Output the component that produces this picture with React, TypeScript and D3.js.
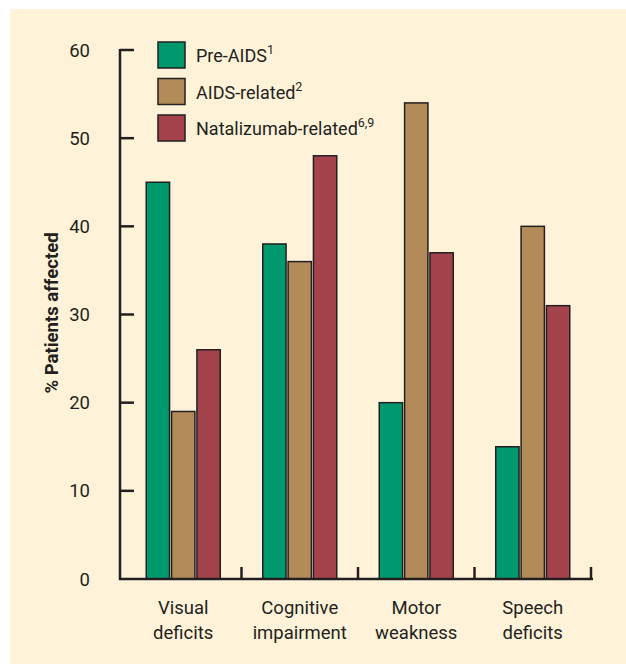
import * as d3 from "d3";

const categories = [["Visual", "deficits"], ["Cognitive", "impairment"], ["Motor", "weakness"], ["Speech", "deficits"]];
const seriesNames = ["Pre-AIDS", "AIDS-related", "Natalizumab-related"];
const seriesSup = ["1", "2", "6,9"];
const seriesColors = ["#00996e", "#b28b59", "#a5434d"];
const preAids = [45, 38, 20, 15];
const aidsRelated = [19, 36, 54, 40];
const natalizumab = [26, 48, 37, 31];
const yTicks = [0, 10, 20, 30, 40, 50, 60];

const seriesValues = [preAids, aidsRelated, natalizumab];
const font = "Roboto, 'Noto Sans', sans-serif";
const ink = "#231f20";

export default function App() {
  const width = 626;
  const height = 664;
  const marginLeft = 120;
  const marginRight = 592;
  const y0 = 579;
  const yTop = 50;

  const keys = categories.map((c) => c.join(" "));
  const x = d3.scaleBand<string>().domain(keys).range([marginLeft + 5, marginRight - 1]).paddingInner(0).paddingOuter(0);
  const xInner = d3.scaleBand<number>().domain([0, 1, 2]).range([0, 74]).paddingInner(0.08);
  const y = d3.scaleLinear().domain([0, 60]).range([y0, yTop]);
  const groupOffset = (x.bandwidth() - 74) / 2;

  return (
    <svg width={width} height={height} style={{ position: "absolute", left: 0, top: 0 }}>
      <rect x={10} y={9} width={width - 10} height={height - 9} fill="#fef3d9" />

      {/* bars */}
      {keys.map((k, ci) => (
        <g key={k} transform={`translate(${(x(k) ?? 0) + groupOffset},0)`}>
          {seriesValues.map((vals, si) => (
            <rect
              key={si}
              x={xInner(si)}
              y={y(vals[ci])}
              width={xInner.bandwidth()}
              height={y(0) - y(vals[ci])}
              fill={seriesColors[si]}
              stroke={ink}
              strokeWidth={1.5}
            />
          ))}
        </g>
      ))}

      {/* y axis */}
      <line x1={marginLeft} x2={marginLeft} y1={y(60) - 1} y2={y0 + 1} stroke={ink} strokeWidth={2.5} />
      {yTicks.map((t) => (
        <g key={t}>
          {t > 0 && <line x1={marginLeft} x2={marginLeft + 14} y1={y(t)} y2={y(t)} stroke={ink} strokeWidth={2.5} />}
          <text x={90} y={y(t) + 6.5} textAnchor="end" fontFamily={font} fontSize={18.5} fill={ink}>
            {t}
          </text>
        </g>
      ))}

      {/* x axis */}
      <line x1={marginLeft - 1} x2={marginRight + 1} y1={y0} y2={y0} stroke={ink} strokeWidth={2.5} />
      {keys.map((k) => (
        <line key={k} x1={(x(k) ?? 0) + x.bandwidth()} x2={(x(k) ?? 0) + x.bandwidth()} y1={y0} y2={y0 - 12} stroke={ink} strokeWidth={2.5} />
      ))}
      {categories.map((c, i) => (
        <text key={i} x={(x(keys[i]) ?? 0) + x.bandwidth() / 2} y={614} textAnchor="middle" fontFamily={font} fontSize={18.5} fill={ink}>
          <tspan x={(x(keys[i]) ?? 0) + x.bandwidth() / 2}>{c[0]}</tspan>
          <tspan x={(x(keys[i]) ?? 0) + x.bandwidth() / 2} dy={25}>{c[1]}</tspan>
        </text>
      ))}

      {/* y label */}
      <text transform={`translate(58,${313}) rotate(-90)`} textAnchor="middle" fontFamily={font} fontSize={18.5} fontWeight="bold" fill={ink}>
        % Patients affected
      </text>

      {/* legend */}
      {seriesNames.map((n, i) => (
        <g key={n} transform={`translate(158,${42 + i * 36.5})`}>
          <rect width={27} height={26} fill={seriesColors[i]} stroke={ink} strokeWidth={1.5} />
          <text x={38} y={20} fontFamily={font} fontSize={18} fill={ink}>
            {n}
            <tspan fontSize={12.5} dy={-8}>{seriesSup[i]}</tspan>
          </text>
        </g>
      ))}
    </svg>
  );
}
